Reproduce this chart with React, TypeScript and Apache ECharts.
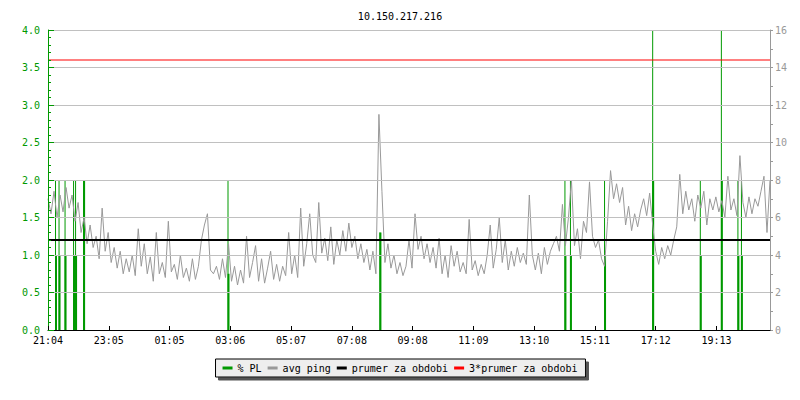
import React, { useEffect, useRef } from "react";
import * as echarts from "echarts";

const TITLE = "10.150.217.216";
const xTickLabels = ["21:04", "23:05", "01:05", "03:06", "05:07", "07:08", "09:08", "11:09", "13:10", "15:11", "17:12", "19:13"];
const TICK_MIN = 121.2; // minutes between x grid ticks
const SPAN_MIN = 1440; // 24 h shown
const SAMPLE_STEP_MIN = 6;

// avg ping in ms (right axis), one value every 6 minutes
const avgPingMs = [
  7.0, 6.2, 7.4, 6.0, 7.2, 6.3, 7.6, 6.5, 7.2, 5.8,
  6.8, 5.2, 6.0, 4.6, 5.6, 4.4, 5.0, 3.8, 6.5, 4.2,
  5.2, 3.6, 4.4, 3.3, 4.2, 3.0, 3.8, 3.1, 4.0, 2.9,
  5.4, 3.4, 4.6, 3.0, 3.9, 2.6, 5.2, 3.0, 3.6, 2.8,
  5.8, 3.1, 3.5, 2.7, 4.0, 2.8, 3.3, 2.6, 3.8, 2.7,
  3.4, 4.8, 5.6, 6.2, 3.2, 3.0, 3.4, 2.7, 3.8, 2.8,
  4.6, 2.6, 3.4, 2.4, 3.2, 2.5, 5.0, 2.8, 3.6, 4.5,
  2.6, 3.8, 2.5, 3.3, 4.2, 2.7, 3.5, 2.6, 3.4, 2.9,
  5.2, 3.0, 4.0, 2.8, 6.5, 3.4, 4.6, 6.2, 4.0, 3.6,
  6.8, 4.1, 4.9, 3.7, 5.5, 3.5, 4.8, 4.0, 5.3, 4.2,
  5.7, 4.4, 5.0, 3.8, 4.6, 3.6, 4.3, 3.2, 4.2, 3.0,
  11.5, 7.4, 3.6, 4.6, 3.3, 4.0, 3.0, 3.6, 2.9, 3.4,
  4.8, 3.3, 6.2, 4.3, 5.0, 3.8, 4.6, 3.6, 4.4, 3.3,
  4.9, 3.0, 4.0, 2.8, 4.5, 3.4, 4.2, 3.1, 3.6, 3.0,
  5.9, 3.2, 3.7, 2.9, 3.5, 3.0, 4.0, 5.6, 3.3, 4.3,
  6.0, 3.6, 4.8, 3.2, 4.2, 3.4, 4.4, 3.6, 4.1, 3.5,
  7.2, 4.0, 3.2, 4.1, 3.0, 4.4, 3.5, 4.2, 4.6, 5.0,
  4.2, 6.7, 4.5, 6.0, 8.0, 4.5, 5.4, 3.8, 5.8, 5.2,
  7.9, 5.0, 4.4, 4.8, 3.8, 3.4, 5.8, 8.5, 7.0, 7.8,
  6.8, 7.6, 5.6, 6.6, 5.3, 6.2, 5.5, 6.4, 7.0, 6.1,
  7.3, 5.6, 4.2, 3.5, 4.4, 3.8, 4.5, 4.0, 4.8, 5.5,
  8.3, 6.2, 7.4, 6.4, 7.0, 5.8, 7.2, 6.5, 7.4, 5.6,
  7.0, 6.4, 7.1, 6.3, 6.9, 6.0, 8.2, 6.4, 7.0, 6.1,
  9.3, 6.8, 6.0, 7.1, 6.2, 7.0, 6.6, 7.4, 8.2, 5.2, 8.0,
];

// packet loss events (minutes from start), % PL (left axis)
const plTimesMin = [16, 23, 35, 52, 56, 72, 360, 663, 1032, 1043, 1111, 1207, 1302, 1344, 1377, 1384];
const plPeak = [2, 2, 2, 2, 2, 2, 2, 1.3, 2, 2, 2, 4, 2, 4, 2, 2];
const plBase = [1, 1, 1, 1, 1, 2, 0.75, 1.3, 1, 1, 1, 2, 1, 2, 1, 1];

const periodAvgMs = 4.8;
const periodAvg3xMs = 14.4;

const GREEN = "#009900";
const GRAY = "#999999";
const FONT = "DejaVu Sans Mono";

export default function App() {
  const ref = useRef<HTMLDivElement>(null);
  useEffect(() => {
    if (!ref.current) return;
    const chart = echarts.init(ref.current, undefined, { renderer: "svg" });
    const option: any = {
      animation: false,
      backgroundColor: "#ffffff",
      title: {
        text: TITLE,
        left: "center",
        top: 6,
        textStyle: { fontFamily: FONT, fontSize: 10, fontWeight: "normal", color: "#000" },
      },
      legend: {
        data: ["% PL", "avg ping", "prumer za obdobi", "3*prumer za obdobi"],
        left: "center",
        top: 359,
        icon: "rect",
        itemWidth: 10,
        itemHeight: 3,
        itemGap: 6,
        padding: [4, 8, 4, 7],
        backgroundColor: "#eeeeee",
        borderColor: "#000",
        borderWidth: 1,
        shadowColor: "#555",
        shadowBlur: 0,
        shadowOffsetX: 3,
        shadowOffsetY: 3,
        textStyle: { fontFamily: FONT, fontSize: 10, color: "#000" },
      },
      grid: { left: 48, right: 30, top: 30, bottom: 70, containLabel: false },
      xAxis: {
        type: "value",
        min: 0,
        max: SPAN_MIN,
        interval: TICK_MIN,
        z: 10,
        axisLine: { lineStyle: { color: "#000", width: 1 } },
        axisTick: { inside: true, length: 4, lineStyle: { color: "#000" } },
        splitLine: { show: false },
        axisLabel: {
          margin: 5,
          fontFamily: FONT,
          fontSize: 10,
          color: "#000",
          showMaxLabel: false,
          formatter: (v: number) => {
            const k = Math.round(v / TICK_MIN);
            return xTickLabels[k] ?? "";
          },
        },
      },
      yAxis: [
        {
          type: "value",
          min: 0,
          max: 4,
          interval: 0.5,
          position: "left",
          z: 10,
          axisLine: { show: true, lineStyle: { color: GREEN, width: 1 } },
          axisTick: { show: true, inside: true, length: 6, lineStyle: { color: GREEN } },
          minorTick: { show: true, splitNumber: 5, length: 3, lineStyle: { color: GREEN } },
          splitLine: { show: true, lineStyle: { color: "#c0c0c0", width: 1 } },
          axisLabel: {
            margin: 8,
            fontFamily: FONT,
            fontSize: 10,
            color: GREEN,
            formatter: (v: number) => v.toFixed(1),
          },
        },
        {
          type: "value",
          min: 0,
          max: 16,
          interval: 2,
          position: "right",
          axisLine: { show: true, lineStyle: { color: GRAY, width: 1 } },
          axisTick: { show: true, inside: false, length: 3, lineStyle: { color: GRAY } },
          minorTick: { show: true, splitNumber: 2, length: 3, lineStyle: { color: GRAY } },
          splitLine: { show: false },
          axisLabel: { margin: 5, fontFamily: FONT, fontSize: 10, color: GRAY },
        },
      ],
      series: [
        {
          name: "% PL",
          type: "bar",
          yAxisIndex: 0,
          barWidth: 1,
          barGap: "-100%",
          itemStyle: { color: GREEN },
          data: plTimesMin.map((t, i) => [t, plPeak[i]]),
          z: 1,
        },
        {
          name: "% PL",
          type: "bar",
          yAxisIndex: 0,
          barWidth: 2,
          barGap: "-100%",
          itemStyle: { color: GREEN },
          data: plTimesMin.map((t, i) => [t, plBase[i]]),
          z: 1,
        },
        {
          name: "avg ping",
          type: "line",
          yAxisIndex: 1,
          symbol: "none",
          lineStyle: { color: GRAY, width: 1 },
          itemStyle: { color: GRAY },
          data: avgPingMs.map((v, i) => [i * SAMPLE_STEP_MIN, v]),
          z: 2,
        },
        {
          name: "prumer za obdobi",
          type: "line",
          yAxisIndex: 1,
          symbol: "none",
          lineStyle: { color: "#000", width: 2 },
          itemStyle: { color: "#000" },
          data: [[0, periodAvgMs], [SPAN_MIN, periodAvgMs]],
          z: 3,
        },
        {
          name: "3*prumer za obdobi",
          type: "line",
          yAxisIndex: 1,
          symbol: "none",
          lineStyle: { color: "#ff0000", width: 1 },
          itemStyle: { color: "#ff0000" },
          data: [[0, periodAvg3xMs], [SPAN_MIN, periodAvg3xMs]],
          z: 3,
        },
      ],
    };
    chart.setOption(option);
    return () => chart.dispose();
  }, []);
  return <div ref={ref} style={{ width: 800, height: 400, position: "absolute", left: 0, top: 0 }} />;
}
